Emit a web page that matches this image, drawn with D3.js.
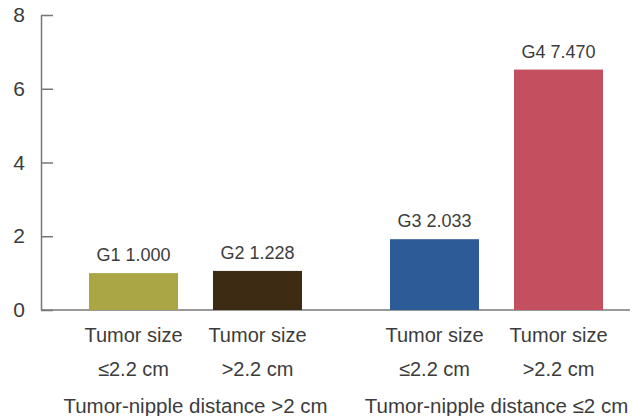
<!DOCTYPE html>
<html>
<head>
<meta charset="utf-8">
<script src="https://cdn.jsdelivr.net/npm/d3@7"></script>
<style>
  body { margin: 0; background: #fff; }
  text { font-family: "Liberation Sans", Arial, sans-serif; fill: #3c3c3c; }
  .axis path, .axis line { stroke: #777; stroke-width: 1.5; }
</style>
</head>
<body>
<div class="chart"></div>
<script>
// chart data
var groups = ["Tumor-nipple distance >2 cm", "Tumor-nipple distance \u22642 cm"];
var sizes = ["\u22642.2 cm", ">2.2 cm"];
var barGroup = [0, 0, 1, 1];
var barSize = [0, 1, 0, 1];
var barNames = ["G1", "G2", "G3", "G4"];
var barLabels = ["1.000", "1.228", "2.033", "7.470"];
var barHeights = [1.0, 1.06, 1.92, 6.52];
var barColors = ["#aaa644", "#3d2b13", "#2d5b97", "#c4505f"];
var yTicks = [0, 2, 4, 6, 8];

var svgWidth = 640;
var svgHeight = 416;

var svg = d3.select(".chart")
  .append("svg")
  .attr("width", svgWidth)
  .attr("height", svgHeight);

// scales
var yScale = d3.scaleLinear()
  .domain([0, 8])
  .range([310, 15]);

var xGroup = d3.scaleBand()
  .domain(groups)
  .range([45, 647]);

var xInner = d3.scaleBand()
  .domain(sizes)
  .range([44, 257])
  .paddingInner(0.282);

// y axis, ticks point inward
var yAxis = d3.axisLeft(yScale)
  .tickValues(yTicks)
  .tickSize(-12)
  .tickSizeOuter(0)
  .tickPadding(16);

var yG = svg.append("g")
  .attr("class", "axis")
  .attr("transform", "translate(41,0)")
  .call(yAxis);

yG.selectAll("text")
  .style("font-size", "21px")
  .attr("fill", "#3c3c3c");

// baseline
svg.append("line")
  .attr("class", "base")
  .attr("x1", 41)
  .attr("x2", 630)
  .attr("y1", yScale(0))
  .attr("y2", yScale(0))
  .attr("stroke", "#777")
  .attr("stroke-width", 1.5);

var idx = d3.range(barHeights.length);

function barX(i) {
  return xGroup(groups[barGroup[i]]) + xInner(sizes[barSize[i]]);
}

// bars
svg.selectAll("rect.bar")
  .data(idx)
  .enter()
  .append("rect")
  .attr("class", "bar")
  .attr("x", i => barX(i))
  .attr("width", xInner.bandwidth())
  .attr("y", i => yScale(barHeights[i]))
  .attr("height", i => yScale(0) - yScale(barHeights[i]))
  .attr("fill", i => barColors[i]);

// value labels
svg.selectAll("text.val")
  .data(idx)
  .enter()
  .append("text")
  .attr("class", "val")
  .attr("x", i => barX(i) + xInner.bandwidth() / 2)
  .attr("y", i => yScale(barHeights[i]) - 12)
  .attr("text-anchor", "middle")
  .style("font-size", "18px")
  .text(i => barNames[i] + " " + barLabels[i]);

// category labels
idx.forEach(function(i) {
  var cx = barX(i) + xInner.bandwidth() / 2;
  svg.append("text")
    .attr("x", cx)
    .attr("y", 342)
    .attr("text-anchor", "middle")
    .style("font-size", "20px")
    .text("Tumor size");
  svg.append("text")
    .attr("x", cx)
    .attr("y", 376)
    .attr("text-anchor", "middle")
    .style("font-size", "20px")
    .text(sizes[barSize[i]]);
});

// group labels
svg.selectAll("text.grp")
  .data(groups)
  .enter()
  .append("text")
  .attr("class", "grp")
  .attr("x", d => xGroup(d) + xGroup.bandwidth() / 2)
  .attr("y", 413)
  .attr("text-anchor", "middle")
  .style("font-size", "20.5px")
  .text(d => d);
</script>
</body>
</html>
